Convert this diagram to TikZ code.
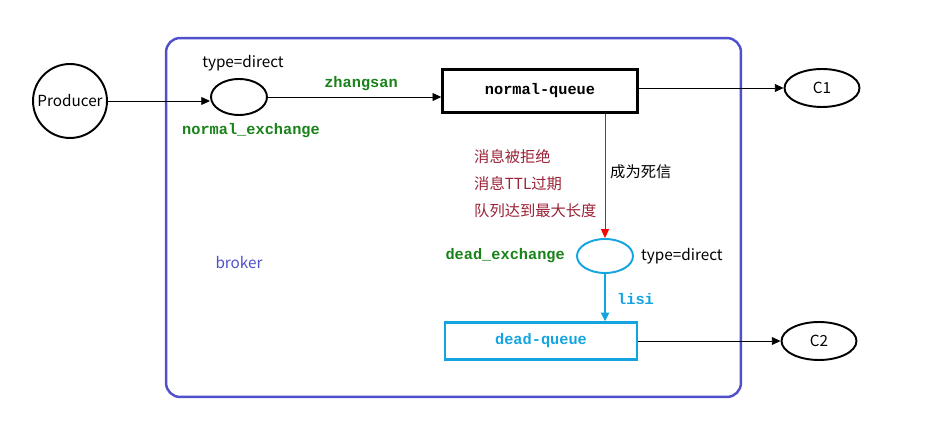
\documentclass[tikz,border=0pt]{standalone}
\usepackage{fontspec}
\setmainfont{Noto Sans CJK SC}
\setmonofont{Liberation Mono}
\usetikzlibrary{positioning,arrows.meta,shapes.geometric}
\definecolor{BrokerBlue}{RGB}{80,80,205}
\definecolor{DeadCyan}{RGB}{20,165,225}
\definecolor{KeyGreen}{RGB}{25,130,25}
\definecolor{ReasonRed}{RGB}{155,35,55}

\begin{document}
\begin{tikzpicture}[x=0.02cm, y=-0.02cm, font=\fontsize{8.7}{10}\selectfont,
frame/.style={draw=BrokerBlue, line width=1.4pt, rounded corners=8pt,
minimum width=11.5cm, minimum height=7.18cm},
exch/.style={ellipse, draw, line width=1.1pt, minimum width=1.12cm,
minimum height=0.72cm, inner sep=0pt},
queue/.style={draw, line width=1.4pt, minimum width=3.9cm, minimum height=0.86cm,
font=\fontsize{8.7}{10}\selectfont\ttfamily\bfseries},
client/.style={ellipse, draw, line width=1.1pt, minimum width=1.5cm,
minimum height=0.76cm, inner sep=0pt},
key/.style={font=\fontsize{8.7}{10}\selectfont\ttfamily\bfseries, text=KeyGreen},
line/.style={draw, line width=0.55pt, -{Triangle[length=5pt,width=4.5pt]}}]
\fill[white] (0,0) rectangle (935,431);
\useasboundingbox (0,0) rectangle (935,431);
% broker frame
\node[frame] (brk) at (453.5,217.5) {};
\node[text=BrokerBlue] (brklbl) at (239,263) {broker};
% normal path
\node[circle, draw, line width=1.1pt, minimum size=1.48cm, inner sep=0pt] (prod) at (70,101) {Producer};
\node[exch] (ex1) at (239,97) {};
\node (ex1type) at (243,63) {type=direct};
\node[key] (ex1name) at (251,131) {normal\_exchange};
\node[queue] (nq) at (540,91) {normal-queue};
\node[client] (c1) at (822,88) {C1};
\node[key] (rk1) at (361,84) {zhangsan};
\draw[line] (prod.east) -- (prod.east -| ex1.west);
\draw[line] (ex1.east) -- (ex1.east -| nq.west);
\draw[line] (nq.east |- c1) -- (c1);
% dead letter path
\node[exch, draw=DeadCyan, minimum height=0.68cm] (dex) at (605,256) {};
\node[key, anchor=east] (dexname) at (571,256) {dead\_exchange};
\node[anchor=west] (dextype) at (635,256) {type=direct};
\node[queue, draw=DeadCyan, text=DeadCyan, line width=1.2pt, minimum width=3.84cm,
minimum height=0.74cm] (dq) at (541,341) {dead-queue};
\node[client] (c2) at (819,341) {C2};
\node[key, text=DeadCyan, anchor=west] (rk2) at (611,299) {lisi};
\node[text=ReasonRed, anchor=west] (why1) at (468,157) {消息被拒绝};
\node[text=ReasonRed, anchor=west] (why2) at (468,184) {消息TTL过期};
\node[text=ReasonRed, anchor=west] (why3) at (468,211) {队列达到最大长度};
\node[anchor=west] (dead) at (604,172) {成为死信};
\draw[line, draw=red, color=red, line width=0.5pt] (dex.north |- nq.south) -- (dex.north);
\draw[line, draw=DeadCyan, color=DeadCyan, line width=1.3pt] (dex.south) -- (dex.south |- dq.north);
\draw[line] (dq.east |- c2) -- (c2);
\end{tikzpicture}
\end{document}
